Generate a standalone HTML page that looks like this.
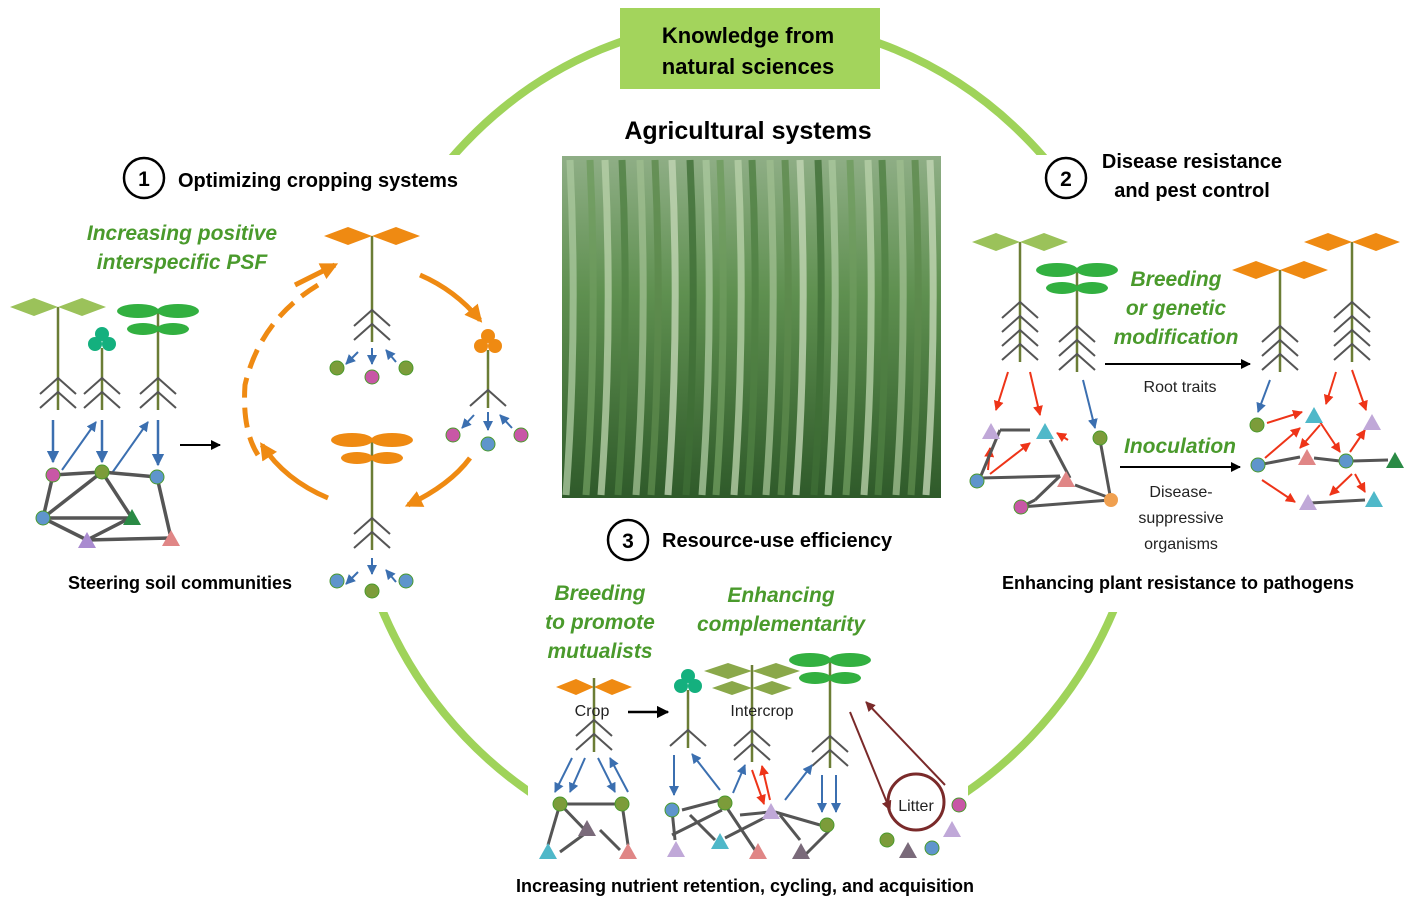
<!DOCTYPE html>
<html><head><meta charset="utf-8">
<style>
html,body{margin:0;padding:0;background:#fff;}
svg{display:block;font-family:"Liberation Sans","DejaVu Sans",sans-serif;}
.t{font-size:20px;fill:#000;}
.b{font-weight:bold;}
.g{fill:#4a9a2c;font-style:italic;font-weight:bold;font-size:21px;}
.n{font-size:16px;fill:#222;}
</style></head>
<body>
<svg id="s" width="1417" height="907" viewBox="0 0 1417 907">
<defs>
<clipPath id="arcclip"><rect x="0" y="0" width="1417" height="155"/><rect x="0" y="612" width="528" height="300"/><rect x="968" y="612" width="460" height="300"/></clipPath>
<marker id="ab" viewBox="0 0 10 10" refX="9" refY="5" markerWidth="5" markerHeight="5" orient="auto"><path d="M0,0L10,5L0,10z" fill="#3b6fb0"/></marker>
<marker id="ar" viewBox="0 0 10 10" refX="9" refY="5" markerWidth="5" markerHeight="5" orient="auto"><path d="M0,0L10,5L0,10z" fill="#ee3418"/></marker>
<marker id="ak" viewBox="0 0 10 10" refX="9" refY="5" markerWidth="5" markerHeight="5" orient="auto"><path d="M0,0L10,5L0,10z" fill="#000"/></marker>
<marker id="am" viewBox="0 0 10 10" refX="9" refY="5" markerWidth="5" markerHeight="5" orient="auto"><path d="M0,0L10,5L0,10z" fill="#7a2a2a"/></marker>
<marker id="ao" viewBox="0 0 10 10" refX="8" refY="5" markerWidth="3.5" markerHeight="3.5" orient="auto"><path d="M0,0L10,5L0,10z" fill="#ef8a12"/></marker>
<linearGradient id="ph" x1="0" y1="0" x2="0" y2="1"><stop offset="0" stop-color="#8fae86"/><stop offset="0.4" stop-color="#5f9050"/><stop offset="1" stop-color="#2f5a2a"/></linearGradient>
</defs>
<ellipse cx="748" cy="440" rx="400" ry="420" fill="none" stroke="#9fd35a" stroke-width="8" clip-path="url(#arcclip)"/>
<rect x="620" y="8" width="260" height="81" fill="#a3d45c"/>
<text x="748" y="43" text-anchor="middle" class="t b" style="font-size:22px">Knowledge from</text>
<text x="748" y="74" text-anchor="middle" class="t b" style="font-size:22px">natural sciences</text>
<text x="748" y="139" text-anchor="middle" class="t b" style="font-size:25px">Agricultural systems</text>
<g>
<rect x="562" y="156" width="379" height="342" fill="url(#ph)"/>
<g id="photoStripes"></g>
</g>
<g id="g"></g>
<circle cx="144" cy="178" r="20" fill="none" stroke="#000" stroke-width="2.5"/>
<text x="144" y="186" text-anchor="middle" class="t b" style="font-size:21px">1</text>
<text x="178" y="187" class="t" style="font-weight:600">Optimizing cropping systems</text>
<text x="182" y="240" text-anchor="middle" class="g">Increasing positive</text>
<text x="182" y="269" text-anchor="middle" class="g">interspecific PSF</text>
<text x="180" y="589" text-anchor="middle" class="t b" style="font-size:18px">Steering soil communities</text>
<circle cx="1066" cy="178" r="20" fill="none" stroke="#000" stroke-width="2.5"/>
<text x="1066" y="186" text-anchor="middle" class="t b" style="font-size:21px">2</text>
<text x="1192" y="168" text-anchor="middle" class="t" style="font-weight:600">Disease resistance</text>
<text x="1192" y="197" text-anchor="middle" class="t" style="font-weight:600">and pest control</text>
<text x="1176" y="286" text-anchor="middle" class="g">Breeding</text>
<text x="1176" y="315" text-anchor="middle" class="g">or genetic</text>
<text x="1176" y="344" text-anchor="middle" class="g">modification</text>
<text x="1180" y="392" text-anchor="middle" class="n">Root traits</text>
<text x="1180" y="453" text-anchor="middle" class="g">Inoculation</text>
<text x="1181" y="497" text-anchor="middle" class="n">Disease-</text>
<text x="1181" y="523" text-anchor="middle" class="n">suppressive</text>
<text x="1181" y="549" text-anchor="middle" class="n">organisms</text>
<text x="1178" y="589" text-anchor="middle" class="t b" style="font-size:18px">Enhancing plant resistance to pathogens</text>
<circle cx="628" cy="540" r="20" fill="none" stroke="#000" stroke-width="2.5"/>
<text x="628" y="548" text-anchor="middle" class="t b" style="font-size:21px">3</text>
<text x="662" y="547" class="t" style="font-weight:600">Resource-use efficiency</text>
<text x="600" y="600" text-anchor="middle" class="g">Breeding</text>
<text x="600" y="629" text-anchor="middle" class="g">to promote</text>
<text x="600" y="658" text-anchor="middle" class="g">mutualists</text>
<text x="781" y="602" text-anchor="middle" class="g">Enhancing</text>
<text x="781" y="631" text-anchor="middle" class="g">complementarity</text>
<text x="592" y="716" text-anchor="middle" class="n">Crop</text>
<text x="762" y="716" text-anchor="middle" class="n">Intercrop</text>
<text x="916" y="811" text-anchor="middle" class="n">Litter</text>
<text x="745" y="892" text-anchor="middle" class="t b" style="font-size:18px">Increasing nutrient retention, cycling, and acquisition</text>
</svg>
<script>
var NS="http://www.w3.org/2000/svg";
var G=document.getElementById('g');
function el(t,a,p){var e=document.createElementNS(NS,t);for(var k in a)e.setAttribute(k,a[k]);(p||G).appendChild(e);return e;}
var P=document.getElementById('photoStripes');
var sx=[570,590,605,622,640,655,672,690,706,720,738,752,770,785,800,818,832,850,868,882,900,915,930];
var sc=["#a9c79c","#6e9b5e","#b7cfa8","#4f7f42","#9dbd8e","#5c8a4c","#c2d6b4","#3f6e36"];
for(var i=0;i<sx.length;i++){var l=el('path',{d:'M'+sx[i]+',160 Q'+(sx[i]+8)+',330 '+(sx[i]-4)+',495',stroke:sc[i%8],'stroke-width':7,fill:'none',opacity:0.8},P);

}
function line(x1,y1,x2,y2,c,w,m){var a={x1:x1,y1:y1,x2:x2,y2:y2,stroke:c,'stroke-width':w||2.2};if(m)a['marker-end']='url(#'+m+')';return el('line',a);}
function plant(x,top,bot,leaf,col,roots){
 var g=el('g',{});
 
 
 el('line',{x1:x,y1:top,x2:x,y2:bot,stroke:'#6b7d35','stroke-width':2.5},g);
 var n=roots||2;
 for(var i=0;i<n;i++){var y=bot-(n-1-i)*14-18;
  el('path',{d:'M'+(x-18)+','+(y+16)+'L'+x+','+y+'L'+(x+18)+','+(y+16),stroke:'#555','stroke-width':2,fill:'none'},g);}
 var sides=[-1,1];
 if(leaf=='d'){sides.forEach(function(s){el('path',{d:'M'+x+','+top+'l'+(s*24)+',-9l'+(s*24)+',9l'+(-s*24)+',9z',fill:col},g);});}
 else if(leaf=='e'){sides.forEach(function(s){el('ellipse',{cx:x+s*20,cy:top,rx:21,ry:7,fill:col},g);el('ellipse',{cx:x+s*15,cy:top+18,rx:16,ry:6,fill:col},g);});}
 else if(leaf=='c'){el('circle',{cx:x,cy:top-14,r:7,fill:col},g);el('circle',{cx:x-7,cy:top-4,r:7,fill:col},g);el('circle',{cx:x+7,cy:top-4,r:7,fill:col},g);}
 return g;}
var C={m:'#c857a6',g:'#7c9c3a',b:'#5f95cc',dg:'#2a8a45',p:'#a98bd0',r:'#e08686',t:'#4fb8c9',o:'#f0a050',gy:'#7a6a7a',lp:'#c0a8d8'};
function node(x,y,c){var e=el('circle',{cx:x,cy:y,r:7,fill:C[c],stroke:'#4a9a2c','stroke-width':(c=='m'||c=='g'||c=='b')?1:0});return e;}
function tri(x,y,c){var e=el('path',{d:'M'+x+','+(y-9)+'L'+(x+9)+','+(y+7)+'L'+(x-9)+','+(y+7)+'z',fill:C[c]});return e;}
var GR='#555';
plant(58,307,410,'d','#9bc25a',2);plant(102,348,410,'c','#14b07e',2);plant(158,311,410,'e','#32b040',2);
line(53,420,53,462,'#3b6fb0',2.5,'ab');line(62,470,96,422,'#3b6fb0',2,'ab');line(102,420,102,462,'#3b6fb0',2.5,'ab');
line(112,473,148,422,'#3b6fb0',2,'ab');line(158,420,158,465,'#3b6fb0',2.5,'ab');
[[53,475,102,472],[102,472,157,477],[53,475,43,518],[102,472,43,518],[102,472,130,515],[157,477,171,538],[43,518,130,518],[43,518,87,540],[87,540,130,518],[87,540,171,538]].forEach(function(a){line(a[0],a[1],a[2],a[3],GR,3.5);});
node(53,475,'m');node(102,472,'g');node(157,477,'b');node(43,518,'b');tri(132,518,'dg');tri(87,541,'p');tri(171,539,'r');
line(180,445,220,445,'#000',2,'ak');
plant(372,236,342,'d','#ef8a12',2);
line(358,352,346,364,'#3b6fb0',2,'ab');line(372,348,372,364,'#3b6fb0',2,'ab');line(396,362,386,350,'#3b6fb0',2,'ab');
node(337,368,'g');node(372,377,'m');node(406,368,'g');
plant(488,350,408,'c','#ef8a12',1);
line(474,415,462,428,'#3b6fb0',2,'ab');line(488,412,488,430,'#3b6fb0',2,'ab');line(512,428,500,415,'#3b6fb0',2,'ab');
node(453,435,'m');node(488,444,'b');node(521,435,'m');
plant(372,440,550,'e','#ef8a12',2);
line(358,572,346,584,'#3b6fb0',2,'ab');line(372,558,372,574,'#3b6fb0',2,'ab');line(396,582,386,570,'#3b6fb0',2,'ab');
node(337,581,'b');node(372,591,'g');node(406,581,'b');
var o='#ef8a12';
el('path',{d:'M318,285 Q260,320 245,385 Q242,430 258,455',stroke:o,'stroke-width':5,fill:'none','stroke-dasharray':'20,10'});
el('path',{d:'M295,285 L335,265',stroke:o,'stroke-width':5,fill:'none','marker-end':'url(#ao)'});
el('path',{d:'M420,275 Q455,290 480,320',stroke:o,'stroke-width':5,fill:'none','marker-end':'url(#ao)'});
el('path',{d:'M470,458 Q450,485 408,505',stroke:o,'stroke-width':5,fill:'none','marker-end':'url(#ao)'});
el('path',{d:'M328,498 Q285,480 262,445',stroke:o,'stroke-width':5,fill:'none','marker-end':'url(#ao)'});
plant(1020,242,362,'d','#9bc25a',4);plant(1077,270,372,'e','#32b040',3);
plant(1280,270,372,'d','#ef8a12',3);plant(1352,242,362,'d','#ef8a12',4);
line(1105,364,1250,364,'#000',2,'ak');line(1120,467,1240,467,'#000',2,'ak');
var R='#ee3418';
line(1008,372,996,410,R,2,'ar');line(1030,372,1040,415,R,2,'ar');line(1083,380,1095,428,'#3b6fb0',2,'ab');
line(1068,440,1057,433,R,2,'ar');line(988,470,990,448,R,2,'ar');line(990,474,1030,443,R,2,'ar');
[[1000,430,1030,430],[1000,430,980,478],[980,478,1060,476],[1060,476,1035,500],[1035,500,1021,507],[1021,507,1110,500],[1100,440,1110,495],[1050,440,1070,478],[1075,485,1110,498]].forEach(function(a){line(a[0],a[1],a[2],a[3],GR,3);});
tri(991,432,'lp');tri(1045,432,'t');node(1100,438,'g');node(977,481,'b');tri(1066,480,'r');node(1021,507,'m');node(1111,500,'o');
line(1270,380,1258,412,'#3b6fb0',2,'ab');line(1336,372,1326,404,R,2,'ar');line(1352,370,1366,410,R,2,'ar');
line(1267,423,1302,412,R,2,'ar');line(1265,458,1300,428,R,2,'ar');line(1320,422,1340,452,R,2,'ar');line(1350,452,1365,430,R,2,'ar');
line(1262,480,1295,502,R,2,'ar');line(1352,474,1330,495,R,2,'ar');line(1355,474,1365,492,R,2,'ar');line(1320,425,1300,448,R,2,'ar');
[[1258,465,1300,457],[1314,458,1340,461],[1352,461,1388,460],[1310,503,1365,500]].forEach(function(a){line(a[0],a[1],a[2],a[3],GR,3);});
node(1257,425,'g');tri(1314,416,'t');tri(1372,423,'lp');node(1258,465,'b');tri(1307,458,'r');node(1346,461,'b');tri(1395,461,'dg');tri(1308,503,'lp');tri(1374,500,'t');
el('path',{d:'M594,687l-18,-8l-20,8l20,8zM594,687l18,-8l20,8l-20,8z',fill:'#ef8a12'});
plant(594,678,752,'x','#000',2);
line(628,712,668,712,'#000',2.5,'ak');
line(572,758,555,792,'#3b6fb0',2,'ab');line(585,758,570,792,'#3b6fb0',2,'ab');line(598,758,615,792,'#3b6fb0',2,'ab');line(628,792,610,758,'#3b6fb0',2,'ab');
[[560,804,622,804],[560,804,548,845],[560,804,585,830],[622,804,628,845],[590,830,560,852],[600,830,620,850]].forEach(function(a){line(a[0],a[1],a[2],a[3],GR,3);});
node(560,804,'g');node(622,804,'g');tri(587,829,'gy');tri(548,852,'t');tri(628,852,'r');
plant(688,690,748,'c','#14b07e',1);
plant(752,665,762,'x','#000',2);
el('path',{d:'M752,671l-24,-8l-24,8l24,8zM752,671l24,-8l24,8l-24,8zM752,688l-20,-7l-20,7l20,7zM752,688l20,-7l20,7l-20,7z',fill:'#8aa84a'});
plant(830,660,768,'e','#32b040',2);
line(674,755,674,795,'#3b6fb0',2,'ab');line(720,790,692,754,'#3b6fb0',2,'ab');line(733,793,745,765,'#3b6fb0',2,'ab');
line(770,800,762,766,R,2,'ar');line(752,770,764,804,R,2,'ar');line(785,800,812,765,'#3b6fb0',2,'ab');line(822,775,822,812,'#3b6fb0',2,'ab');line(836,775,836,812,'#3b6fb0',2,'ab');
[[672,810,675,840],[682,810,720,800],[672,835,722,810],[690,815,715,840],[725,838,770,815],[740,815,770,812],[775,812,820,825],[780,815,800,840],[830,830,805,855],[725,805,755,850]].forEach(function(a){line(a[0],a[1],a[2],a[3],GR,3);});
node(672,810,'b');node(725,803,'g');tri(771,812,'lp');node(827,825,'g');tri(676,850,'lp');tri(720,842,'t');tri(758,852,'r');tri(801,852,'gy');
var M='#7a2a2a';
el('circle',{cx:916,cy:802,r:28,fill:'none',stroke:M,'stroke-width':3});
line(850,712,890,810,M,2,'am');line(945,785,866,702,M,2,'am');
node(887,840,'g');tri(908,851,'gy');node(932,848,'b');tri(952,830,'lp');node(959,805,'m');
</script>
</body></html>
